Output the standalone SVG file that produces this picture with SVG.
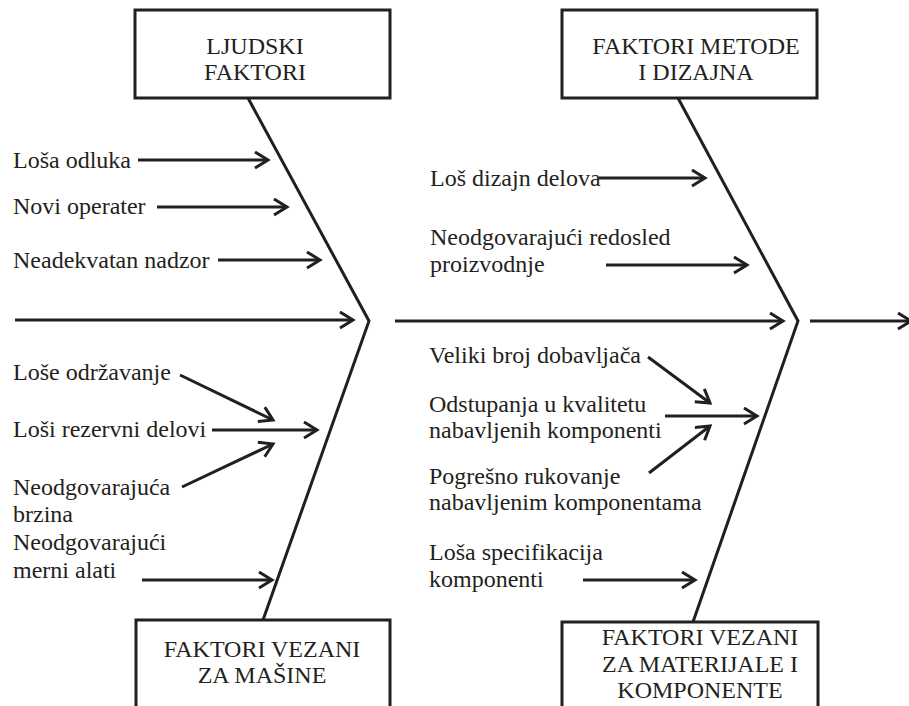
<svg xmlns="http://www.w3.org/2000/svg" width="909" height="706" viewBox="0 0 909 706">
<style>
  .box rect { fill: #ffffff; stroke: #231f20; stroke-width: 3; }
  text { font-family: 'Liberation Serif', 'Times New Roman', serif; font-size: 24px; fill: #231f20; }
  .ctr { text-anchor: middle; }
  .spine { stroke: #231f20; stroke-width: 3; fill: none; stroke-linejoin: miter; }
  .ar { stroke: #231f20; stroke-width: 3; fill: none; marker-end: url(#ah); }
</style>
<defs>
  <marker id="ah" markerUnits="userSpaceOnUse" markerWidth="20" markerHeight="20" refX="15" refY="9" orient="auto" viewBox="0 0 20 20">
    <path d="M2,1 L15,9 L2,17" fill="none" stroke="#231f20" stroke-width="3"/>
  </marker>
</defs>
<rect width="909" height="706" fill="#ffffff"/>

<g id="connectors">
  <polyline class="spine" points="248,98 369,321 263,620"/>
  <polyline class="spine" points="678,98 798,321 693,622"/>
  <line class="ar" x1="15" y1="320" x2="353" y2="320"/>
  <line class="ar" x1="395" y1="321" x2="783" y2="321"/>
  <line class="ar" x1="810" y1="321" x2="911" y2="321"/>
  <line class="ar" x1="138" y1="160" x2="268" y2="160"/>
  <line class="ar" x1="157" y1="207" x2="287" y2="207"/>
  <line class="ar" x1="218" y1="260" x2="320" y2="260"/>
  <line class="ar" x1="180" y1="375" x2="273" y2="420"/>
  <line class="ar" x1="212" y1="430" x2="317" y2="430"/>
  <line class="ar" x1="182" y1="487" x2="273" y2="444"/>
  <line class="ar" x1="142" y1="580" x2="272" y2="580"/>
  <line class="ar" x1="599" y1="178" x2="705" y2="178"/>
  <line class="ar" x1="606" y1="265" x2="747" y2="265"/>
  <line class="ar" x1="648" y1="357" x2="710" y2="403"/>
  <line class="ar" x1="665" y1="416" x2="757" y2="416"/>
  <line class="ar" x1="649" y1="473" x2="710" y2="426"/>
  <line class="ar" x1="583" y1="580" x2="695" y2="580"/>
</g>

<g id="box-ljudski" class="box">
  <rect x="135" y="10" width="255" height="88"/>
  <text class="ctr" x="255" y="54">LJUDSKI</text>
  <text class="ctr" x="255" y="80">FAKTORI</text>
</g>
<g id="box-metode" class="box">
  <rect x="562" y="10" width="255" height="88"/>
  <text class="ctr" x="696" y="54">FAKTORI METODE</text>
  <text class="ctr" x="696" y="80">I DIZAJNA</text>
</g>
<g id="box-masine" class="box">
  <rect x="136" y="620" width="254" height="100"/>
  <text class="ctr" x="262" y="657">FAKTORI VEZANI</text>
  <text class="ctr" x="262" y="683">ZA MAŠINE</text>
</g>
<g id="box-materijali" class="box">
  <rect x="562" y="622" width="256" height="100"/>
  <text class="ctr" x="700" y="645">FAKTORI VEZANI</text>
  <text class="ctr" x="700" y="672">ZA MATERIJALE I</text>
  <text class="ctr" x="700" y="698">KOMPONENTE</text>
</g>

<g id="cause-losa-odluka"><text x="13" y="168">Loša odluka</text></g>
<g id="cause-novi-operater"><text x="13" y="214">Novi operater</text></g>
<g id="cause-nadzor"><text x="13" y="268">Neadekvatan nadzor</text></g>
<g id="cause-odrzavanje"><text x="13" y="380">Loše održavanje</text></g>
<g id="cause-rezervni"><text x="13" y="437">Loši rezervni delovi</text></g>
<g id="cause-brzina"><text x="13" y="495">Neodgovarajuća<tspan x="13" dy="27">brzina</tspan></text></g>
<g id="cause-alati"><text x="13" y="550">Neodgovarajući<tspan x="13" dy="28">merni alati</tspan></text></g>
<g id="cause-dizajn"><text x="430" y="186">Loš dizajn delova</text></g>
<g id="cause-redosled"><text x="430" y="245">Neodgovarajući redosled<tspan x="430" dy="27">proizvodnje</tspan></text></g>
<g id="cause-dobavljaci"><text x="429" y="363">Veliki broj dobavljača</text></g>
<g id="cause-kvalitet"><text x="429" y="412">Odstupanja u kvalitetu<tspan x="429" dy="26">nabavljenih komponenti</tspan></text></g>
<g id="cause-rukovanje"><text x="429" y="484">Pogrešno rukovanje<tspan x="429" dy="26">nabavljenim komponentama</tspan></text></g>
<g id="cause-specifikacija"><text x="429" y="560">Loša specifikacija<tspan x="429" dy="27">komponenti</tspan></text></g>
</svg>
